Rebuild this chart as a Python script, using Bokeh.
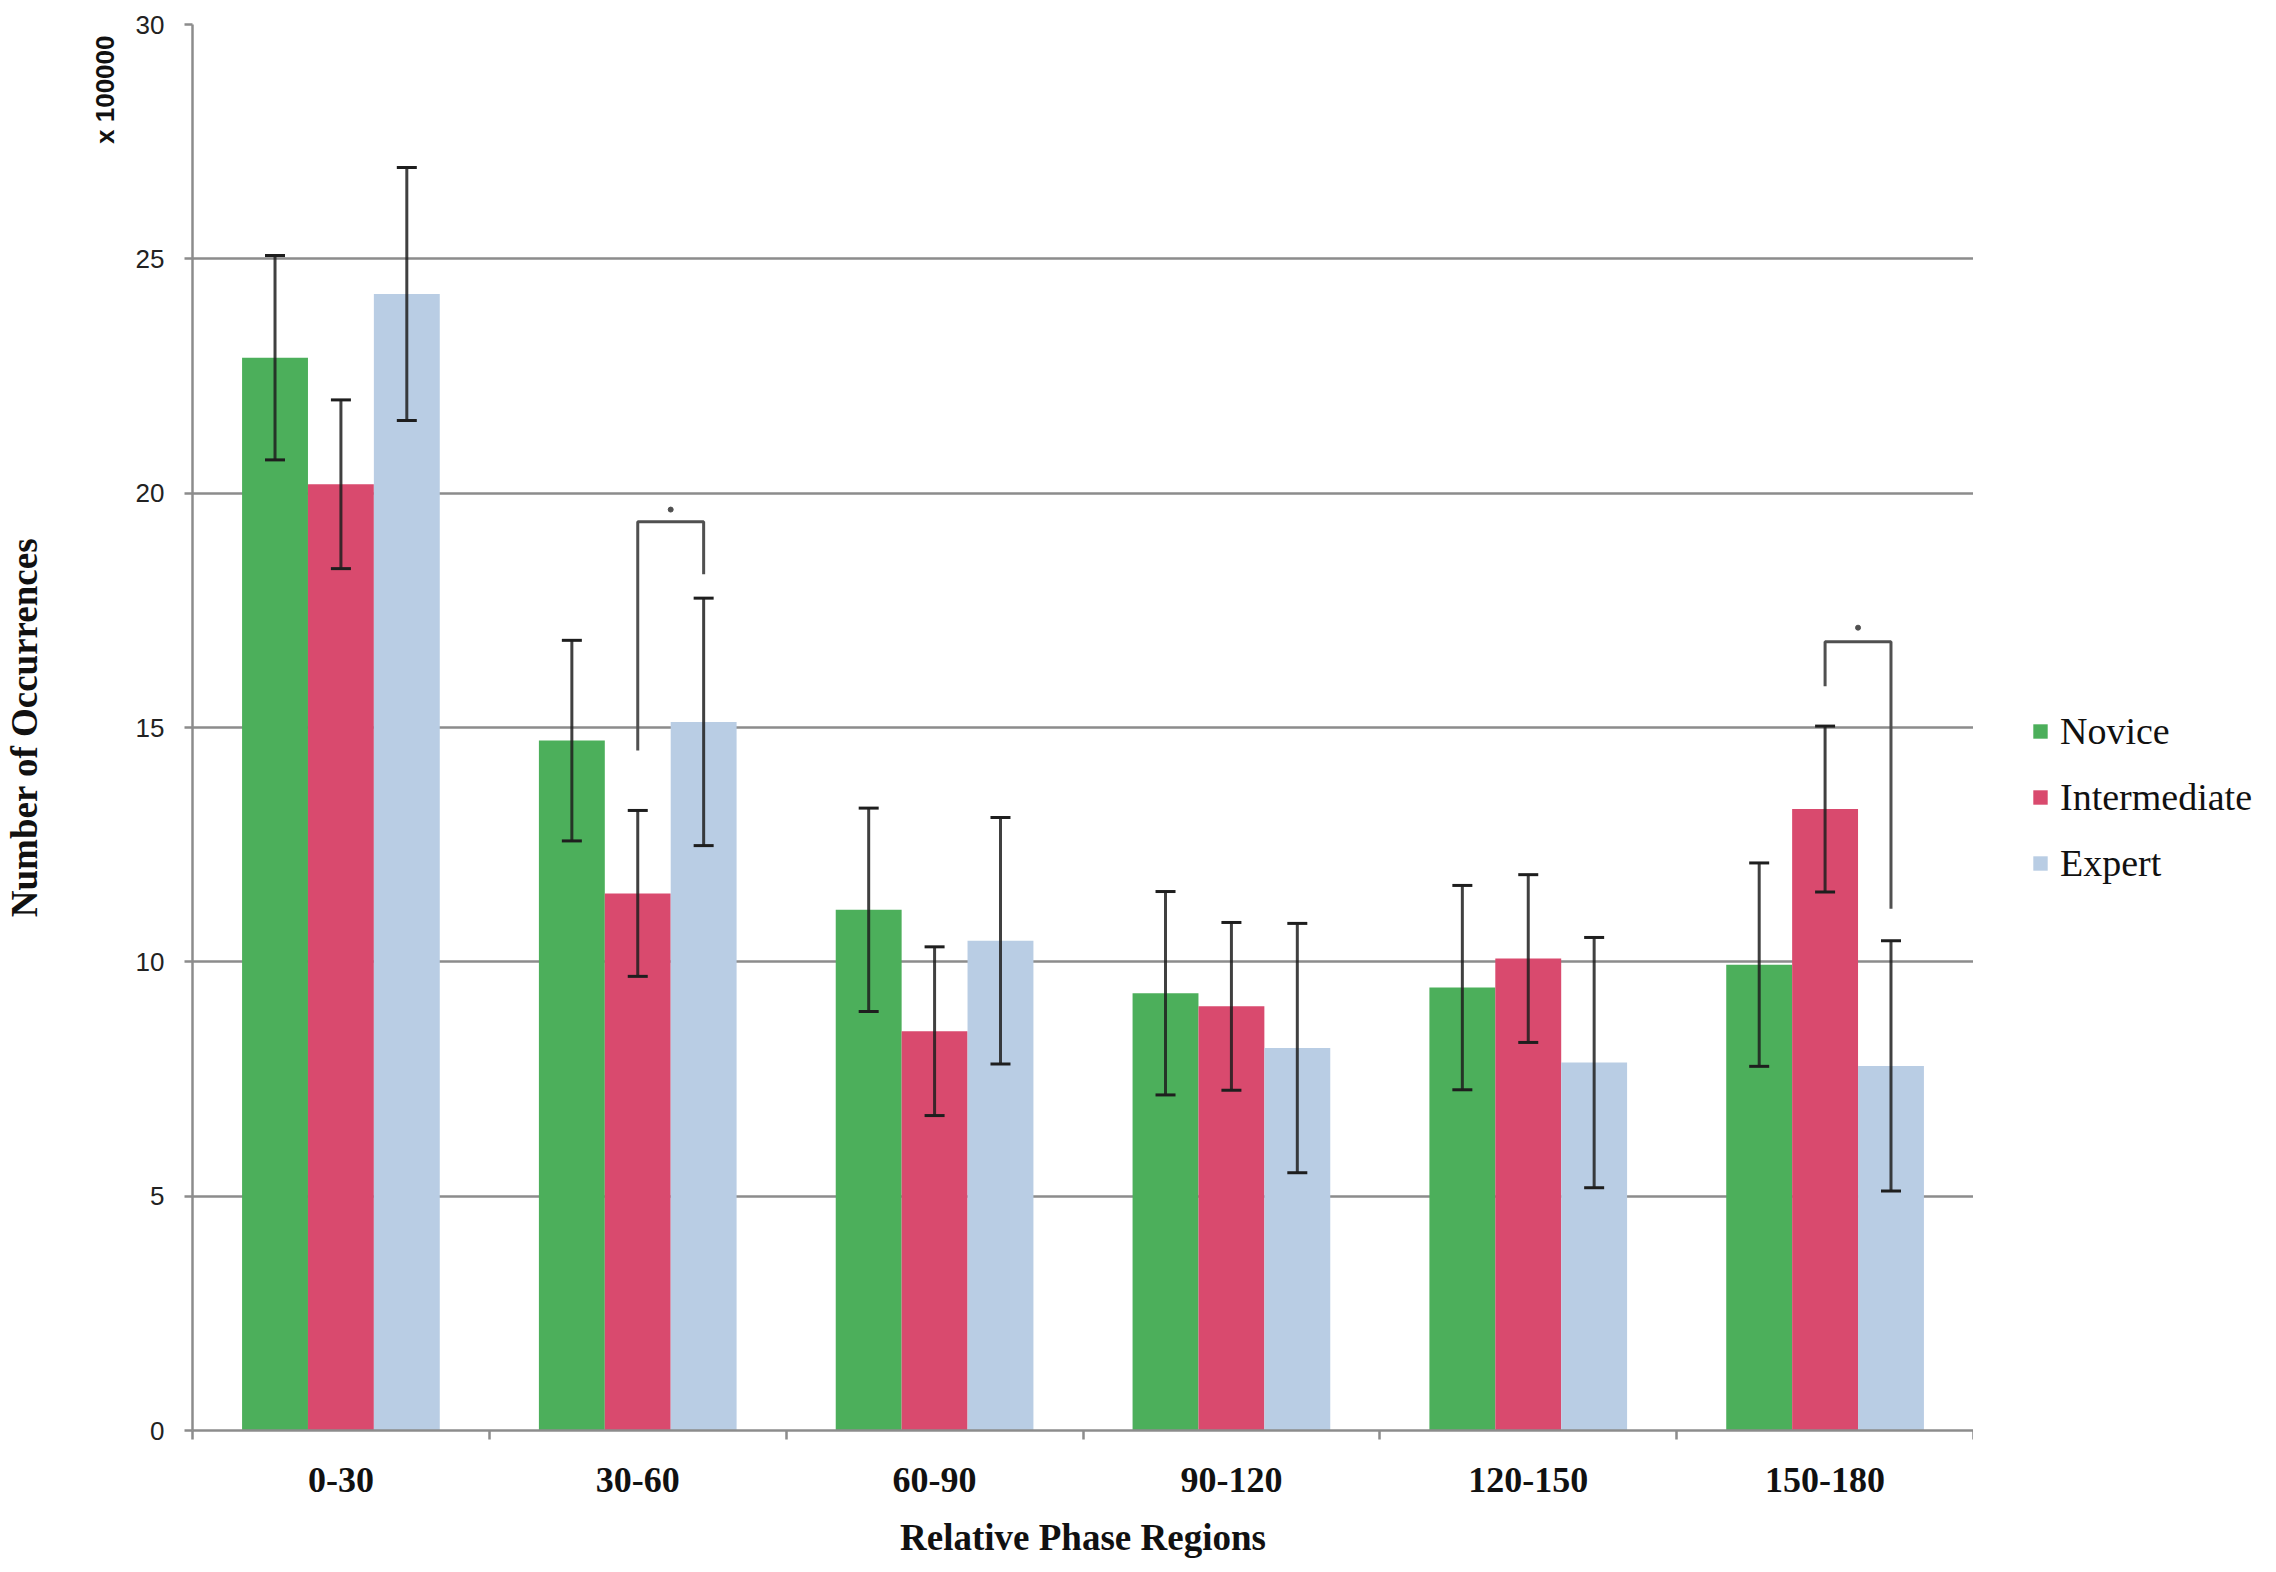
from bokeh.plotting import figure
from bokeh.layouts import row
from bokeh.models import (ColumnDataSource, FixedTicker, Whisker, TeeHead, Legend,
                          LegendItem, Title, Range1d, LinearAxis)
from bokeh.embed import file_html
from bokeh.resources import INLINE

# ---------------- data ----------------
categories = ["0-30", "30-60", "60-90", "90-120", "120-150", "150-180"]
series = ["Novice", "Intermediate", "Expert"]
novice = [22.89, 14.72, 11.11, 9.33, 9.45, 9.94]
intermediate = [20.19, 11.46, 8.52, 9.05, 10.07, 13.26]
expert = [24.25, 15.12, 10.45, 8.16, 7.85, 7.78]
novice_err = [2.18, 2.14, 2.17, 2.17, 2.18, 2.17]
intermediate_err = [1.80, 1.77, 1.80, 1.79, 1.79, 1.77]
expert_err = [2.70, 2.64, 2.63, 2.66, 2.67, 2.67]
y_ticks = [0, 5, 10, 15, 20, 25, 30]

# significance brackets (group index, bracket top, left leg end, right leg end, star height)
sig_group = [1, 5]
sig_top = [19.39, 16.83]
sig_left_end = [14.51, 15.88]
sig_right_end = [18.27, 11.13]
sig_star = [19.65, 17.13]

colors = ["#4caf5b", "#d94a6e", "#b9cde4"]
bar_w = 0.222
offsets = [-bar_w, 0.0, bar_w]

# ---------------- main figure ----------------
p = figure(width=1973, height=1572, x_range=Range1d(0, 6), y_range=Range1d(0, 30),
           output_backend="svg", toolbar_location=None,
           min_border_left=191, min_border_right=0, min_border_top=24, min_border_bottom=142)
p.outline_line_color = None
p.background_fill_color = "white"
p.border_fill_color = "white"

values = [novice, intermediate, expert]
errs = [novice_err, intermediate_err, expert_err]
sources = []
for k in range(3):
    xs = [i + 0.5 + offsets[k] for i in range(len(categories))]
    src = ColumnDataSource(dict(x=xs, top=values[k],
                                upper=[v + e for v, e in zip(values[k], errs[k])],
                                lower=[v - e for v, e in zip(values[k], errs[k])]))
    sources.append(src)
    p.vbar(x="x", top="top", bottom=0, width=bar_w, source=src,
           fill_color=colors[k], line_color=None)
    w = Whisker(base="x", upper="upper", lower="lower", source=src, level="overlay",
                line_color="#1e1e1e", line_width=3, line_alpha=0.85,
                upper_head=TeeHead(size=20, line_color="#1e1e1e", line_width=3),
                lower_head=TeeHead(size=20, line_color="#1e1e1e", line_width=3))
    p.add_layout(w)

# significance brackets
bxs, bys, sx = [], [], []
for g, t, le, re_ in zip(sig_group, sig_top, sig_left_end, sig_right_end):
    xl = g + 0.5 + offsets[1]
    xr = g + 0.5 + offsets[2]
    bxs.append([xl, xl, xr, xr])
    bys.append([le, t, t, re_])
    sx.append((xl + xr) / 2)
p.multi_line(xs=bxs, ys=bys, line_color="#505050", line_width=3)
p.scatter(x=sx, y=sig_star, size=5, color="#505050")

# ---------------- axes ----------------
xax = p.xaxis[0]
xax.ticker = FixedTicker(ticks=[i + 0.5 for i in range(len(categories))],
                         minor_ticks=list(range(len(categories) + 1)))
xax.major_label_overrides = {i + 0.5: c for i, c in enumerate(categories)}
xax.major_tick_out = 0
xax.major_tick_in = 0
xax.minor_tick_out = 9
xax.minor_tick_in = 0
xax.minor_tick_line_color = "#8c8c8c"
xax.minor_tick_line_width = 2.5
xax.axis_line_color = "#8c8c8c"
xax.axis_line_width = 2.5
xax.major_label_text_font = "Liberation Serif"
xax.major_label_text_font_style = "bold"
xax.major_label_text_font_size = "36px"
xax.major_label_text_color = "#111111"
xax.major_label_standoff = 28
xax.axis_label = "Relative Phase Regions"
xax.axis_label_text_font = "Liberation Serif"
xax.axis_label_text_font_style = "bold"
xax.axis_label_text_font_size = "37px"
xax.axis_label_text_color = "#111111"
xax.axis_label_standoff = 22

yax = p.yaxis[0]
yax.ticker = FixedTicker(ticks=y_ticks)
yax.major_tick_out = 8
yax.major_tick_in = 0
yax.minor_tick_out = 0
yax.minor_tick_in = 0
yax.major_tick_line_color = "#8c8c8c"
yax.major_tick_line_width = 2.5
yax.axis_line_color = "#8c8c8c"
yax.axis_line_width = 2.5
yax.major_label_text_font = "Liberation Sans"
yax.major_label_text_font_size = "26px"
yax.major_label_text_color = "#222222"
yax.major_label_standoff = 20

p.xgrid.grid_line_color = None
p.ygrid.grid_line_color = "#8c8c8c"
p.ygrid.grid_line_width = 2.5

# ---------------- left side: scale note + axis title ----------------
t_scale = Title(text="x 100000", align="right", offset=11, standoff=26,
                text_font="Liberation Sans", text_font_style="bold",
                text_font_size="26px", text_color="#111111")
p.add_layout(t_scale, "left")

ytitle_axis = LinearAxis(ticker=FixedTicker(ticks=[]), axis_line_color=None,
                         major_tick_out=0, major_tick_in=0, minor_tick_out=0, minor_tick_in=0,
                         major_label_standoff=0,
                         axis_label="Number of Occurrences", axis_label_standoff=30,
                         axis_label_text_font="Liberation Serif",
                         axis_label_text_font_style="bold",
                         axis_label_text_font_size="37px", axis_label_text_color="#111111")
p.add_layout(ytitle_axis, "left")

# ---------------- legend panel (same series, drawn outside its visible range) ----------------
pl = figure(width=303, height=1572, x_range=Range1d(-20, -19), y_range=Range1d(0, 30),
            output_backend="svg", toolbar_location=None,
            min_border_left=0, min_border_right=0, min_border_top=0, min_border_bottom=0)
pl.xaxis.visible = False
pl.yaxis.visible = False
pl.xgrid.grid_line_color = None
pl.ygrid.grid_line_color = None
pl.outline_line_color = None
pl.border_fill_color = "white"
items = []
for s, c, src in zip(series, colors, sources):
    r = pl.vbar(x="x", top="top", bottom=0, width=bar_w, source=src,
                fill_color=c, line_color=None)
    items.append(LegendItem(label=s, renderers=[r]))
legend = Legend(items=items, location=(58, 545), orientation="vertical",
                glyph_width=18, glyph_height=18, label_standoff=11, spacing=22,
                padding=0, margin=0, border_line_color=None, background_fill_alpha=0,
                label_text_font="Liberation Serif", label_text_font_size="38px",
                label_text_color="#111111")
pl.add_layout(legend, "center")

layout = row(p, pl, spacing=0)
open("out.html", "w").write(file_html(layout, INLINE))
